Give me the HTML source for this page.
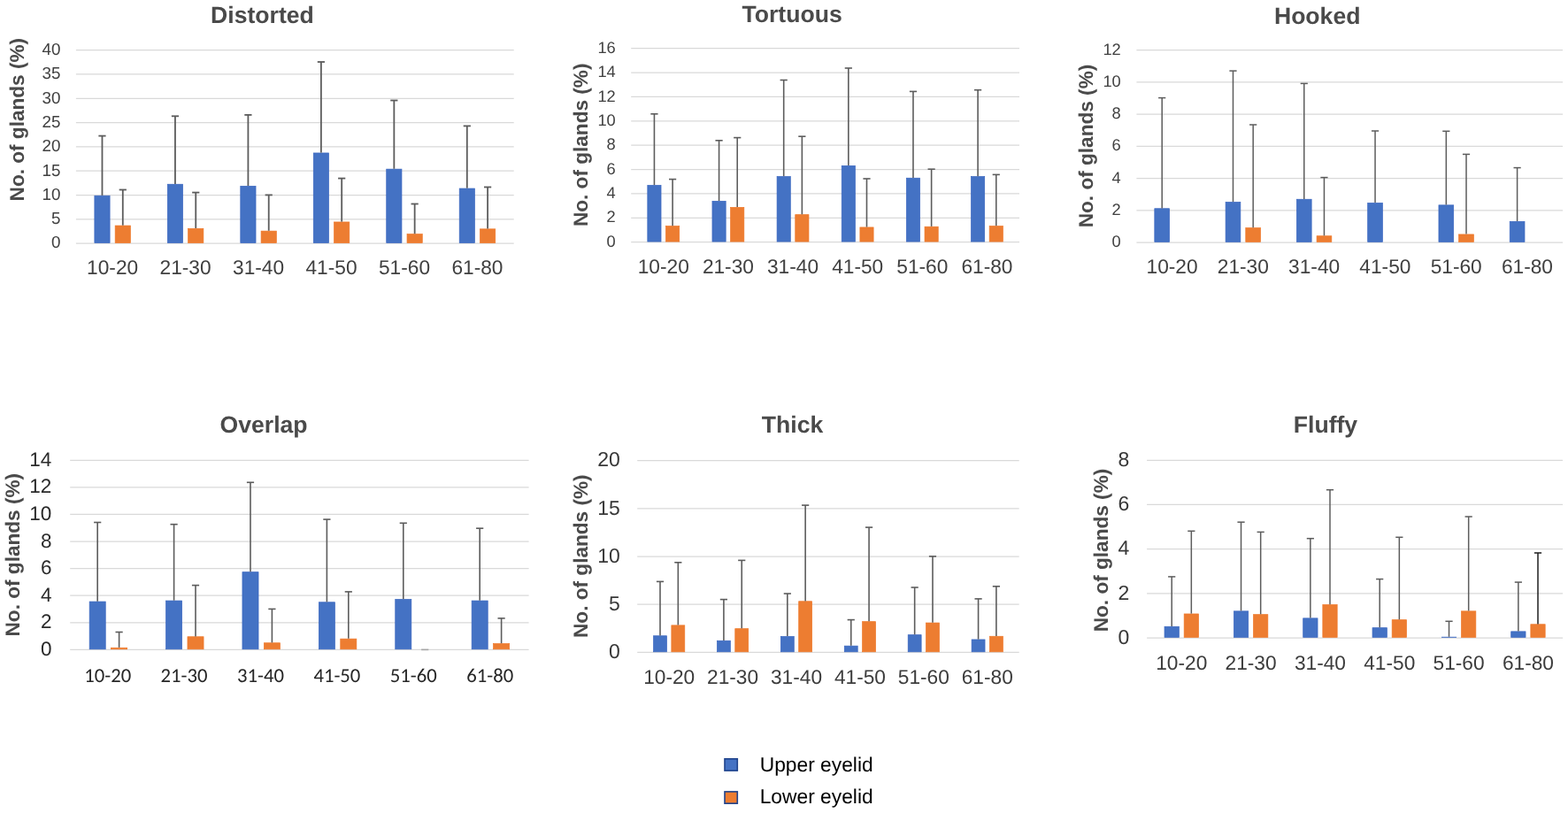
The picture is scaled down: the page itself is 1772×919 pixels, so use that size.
<!DOCTYPE html>
<html lang="en"><head><meta charset="utf-8"><title>Meibomian gland morphology by age group</title>
<style>
html,body{margin:0;padding:0;background:#fff;}
body{width:1772px;height:919px;overflow:hidden;}
svg{display:block;font-family:"Liberation Sans",Arial,sans-serif;text-rendering:geometricPrecision;}
</style></head><body>
<svg width="1772" height="919" viewBox="0 0 1772 919">
<rect width="1772" height="919" fill="#fff"/>
<g>
<line x1="85.9" y1="275.2" x2="580.7" y2="275.2" stroke="#D9D9D9" stroke-width="1.25"/>
<line x1="85.9" y1="247.88" x2="580.7" y2="247.88" stroke="#D9D9D9" stroke-width="1.25"/>
<line x1="85.9" y1="220.55" x2="580.7" y2="220.55" stroke="#D9D9D9" stroke-width="1.25"/>
<line x1="85.9" y1="193.22" x2="580.7" y2="193.22" stroke="#D9D9D9" stroke-width="1.25"/>
<line x1="85.9" y1="165.9" x2="580.7" y2="165.9" stroke="#D9D9D9" stroke-width="1.25"/>
<line x1="85.9" y1="138.57" x2="580.7" y2="138.57" stroke="#D9D9D9" stroke-width="1.25"/>
<line x1="85.9" y1="111.25" x2="580.7" y2="111.25" stroke="#D9D9D9" stroke-width="1.25"/>
<line x1="85.9" y1="83.92" x2="580.7" y2="83.92" stroke="#D9D9D9" stroke-width="1.25"/>
<line x1="85.9" y1="56.6" x2="580.7" y2="56.6" stroke="#D9D9D9" stroke-width="1.25"/>
<text x="68.35" y="280.49" text-anchor="end" font-size="18.8" fill="#404040">0</text>
<text x="68.35" y="253.16" text-anchor="end" font-size="18.8" fill="#404040">5</text>
<text x="68.35" y="225.84" text-anchor="end" font-size="18.8" fill="#404040">10</text>
<text x="68.35" y="198.51" text-anchor="end" font-size="18.8" fill="#404040">15</text>
<text x="68.35" y="171.19" text-anchor="end" font-size="18.8" fill="#404040">20</text>
<text x="68.35" y="143.86" text-anchor="end" font-size="18.8" fill="#404040">25</text>
<text x="68.35" y="116.54" text-anchor="end" font-size="18.8" fill="#404040">30</text>
<text x="68.35" y="89.21" text-anchor="end" font-size="18.8" fill="#404040">35</text>
<text x="68.35" y="61.89" text-anchor="end" font-size="18.8" fill="#404040">40</text>
<rect x="106.87" y="221.25" width="17.23" height="53.35" fill="#4472C4" stroke="#3A66C0" stroke-width="0.7"/>
<line x1="115.48" y1="220.9" x2="115.48" y2="153.6" stroke="#5C5C5C" stroke-width="1.8"/>
<line x1="111.38" y1="153.6" x2="119.58" y2="153.6" stroke="#5C5C5C" stroke-width="1.8"/>
<rect x="130.17" y="255.05" width="17.23" height="19.55" fill="#ED7D31" stroke="#EF7728" stroke-width="0.7"/>
<line x1="138.79" y1="254.7" x2="138.79" y2="214.5" stroke="#5C5C5C" stroke-width="1.8"/>
<line x1="134.69" y1="214.5" x2="142.89" y2="214.5" stroke="#5C5C5C" stroke-width="1.8"/>
<text x="127.13" y="309.8" text-anchor="middle" font-size="22.7" fill="#404040">10-20</text>
<rect x="189.33" y="208.25" width="17.23" height="66.35" fill="#4472C4" stroke="#3A66C0" stroke-width="0.7"/>
<line x1="197.95" y1="207.9" x2="197.95" y2="131.3" stroke="#5C5C5C" stroke-width="1.8"/>
<line x1="193.85" y1="131.3" x2="202.05" y2="131.3" stroke="#5C5C5C" stroke-width="1.8"/>
<rect x="212.64" y="258.35" width="17.23" height="16.25" fill="#ED7D31" stroke="#EF7728" stroke-width="0.7"/>
<line x1="221.25" y1="258" x2="221.25" y2="217.6" stroke="#5C5C5C" stroke-width="1.8"/>
<line x1="217.15" y1="217.6" x2="225.35" y2="217.6" stroke="#5C5C5C" stroke-width="1.8"/>
<text x="209.6" y="309.8" text-anchor="middle" font-size="22.7" fill="#404040">21-30</text>
<rect x="271.8" y="210.35" width="17.23" height="64.25" fill="#4472C4" stroke="#3A66C0" stroke-width="0.7"/>
<line x1="280.41" y1="210" x2="280.41" y2="129.9" stroke="#5C5C5C" stroke-width="1.8"/>
<line x1="276.31" y1="129.9" x2="284.51" y2="129.9" stroke="#5C5C5C" stroke-width="1.8"/>
<rect x="295.11" y="261.15" width="17.23" height="13.45" fill="#ED7D31" stroke="#EF7728" stroke-width="0.7"/>
<line x1="303.72" y1="260.8" x2="303.72" y2="220.4" stroke="#5C5C5C" stroke-width="1.8"/>
<line x1="299.62" y1="220.4" x2="307.82" y2="220.4" stroke="#5C5C5C" stroke-width="1.8"/>
<text x="292.07" y="309.8" text-anchor="middle" font-size="22.7" fill="#404040">31-40</text>
<rect x="354.27" y="172.95" width="17.23" height="101.65" fill="#4472C4" stroke="#3A66C0" stroke-width="0.7"/>
<line x1="362.88" y1="172.6" x2="362.88" y2="70" stroke="#5C5C5C" stroke-width="1.8"/>
<line x1="358.78" y1="70" x2="366.98" y2="70" stroke="#5C5C5C" stroke-width="1.8"/>
<rect x="377.57" y="250.95" width="17.23" height="23.65" fill="#ED7D31" stroke="#EF7728" stroke-width="0.7"/>
<line x1="386.19" y1="250.6" x2="386.19" y2="201.6" stroke="#5C5C5C" stroke-width="1.8"/>
<line x1="382.09" y1="201.6" x2="390.29" y2="201.6" stroke="#5C5C5C" stroke-width="1.8"/>
<text x="374.53" y="309.8" text-anchor="middle" font-size="22.7" fill="#404040">41-50</text>
<rect x="436.73" y="191.15" width="17.23" height="83.45" fill="#4472C4" stroke="#3A66C0" stroke-width="0.7"/>
<line x1="445.35" y1="190.8" x2="445.35" y2="113.5" stroke="#5C5C5C" stroke-width="1.8"/>
<line x1="441.25" y1="113.5" x2="449.45" y2="113.5" stroke="#5C5C5C" stroke-width="1.8"/>
<rect x="460.04" y="264.65" width="17.23" height="9.95" fill="#ED7D31" stroke="#EF7728" stroke-width="0.7"/>
<line x1="468.65" y1="264.3" x2="468.65" y2="230.5" stroke="#5C5C5C" stroke-width="1.8"/>
<line x1="464.55" y1="230.5" x2="472.75" y2="230.5" stroke="#5C5C5C" stroke-width="1.8"/>
<text x="457" y="309.8" text-anchor="middle" font-size="22.7" fill="#404040">51-60</text>
<rect x="519.2" y="213.05" width="17.23" height="61.55" fill="#4472C4" stroke="#3A66C0" stroke-width="0.7"/>
<line x1="527.81" y1="212.7" x2="527.81" y2="142.4" stroke="#5C5C5C" stroke-width="1.8"/>
<line x1="523.71" y1="142.4" x2="531.91" y2="142.4" stroke="#5C5C5C" stroke-width="1.8"/>
<rect x="542.51" y="258.85" width="17.23" height="15.75" fill="#ED7D31" stroke="#EF7728" stroke-width="0.7"/>
<line x1="551.12" y1="258.5" x2="551.12" y2="211.5" stroke="#5C5C5C" stroke-width="1.8"/>
<line x1="547.02" y1="211.5" x2="555.22" y2="211.5" stroke="#5C5C5C" stroke-width="1.8"/>
<text x="539.47" y="309.8" text-anchor="middle" font-size="22.7" fill="#404040">61-80</text>
<text x="296.45" y="26.3" text-anchor="middle" font-size="26.6" font-weight="bold" fill="#4A4A4A">Distorted</text>
<text transform="translate(26.5,135.15) rotate(-90)" text-anchor="middle" font-size="22.6" font-weight="bold" fill="#4A4A4A">No. of glands (%)</text>
</g>
<g>
<line x1="713.2" y1="273.7" x2="1152" y2="273.7" stroke="#D9D9D9" stroke-width="1.25"/>
<line x1="713.2" y1="246.32" x2="1152" y2="246.32" stroke="#D9D9D9" stroke-width="1.25"/>
<line x1="713.2" y1="218.95" x2="1152" y2="218.95" stroke="#D9D9D9" stroke-width="1.25"/>
<line x1="713.2" y1="191.57" x2="1152" y2="191.57" stroke="#D9D9D9" stroke-width="1.25"/>
<line x1="713.2" y1="164.2" x2="1152" y2="164.2" stroke="#D9D9D9" stroke-width="1.25"/>
<line x1="713.2" y1="136.82" x2="1152" y2="136.82" stroke="#D9D9D9" stroke-width="1.25"/>
<line x1="713.2" y1="109.45" x2="1152" y2="109.45" stroke="#D9D9D9" stroke-width="1.25"/>
<line x1="713.2" y1="82.07" x2="1152" y2="82.07" stroke="#D9D9D9" stroke-width="1.25"/>
<line x1="713.2" y1="54.7" x2="1152" y2="54.7" stroke="#D9D9D9" stroke-width="1.25"/>
<text x="695.73" y="278.81" text-anchor="end" font-size="18.3" fill="#404040">0</text>
<text x="695.73" y="251.44" text-anchor="end" font-size="18.3" fill="#404040">2</text>
<text x="695.73" y="224.06" text-anchor="end" font-size="18.3" fill="#404040">4</text>
<text x="695.73" y="196.69" text-anchor="end" font-size="18.3" fill="#404040">6</text>
<text x="695.73" y="169.31" text-anchor="end" font-size="18.3" fill="#404040">8</text>
<text x="695.73" y="141.94" text-anchor="end" font-size="18.3" fill="#404040">10</text>
<text x="695.73" y="114.56" text-anchor="end" font-size="18.3" fill="#404040">12</text>
<text x="695.73" y="87.19" text-anchor="end" font-size="18.3" fill="#404040">14</text>
<text x="695.73" y="59.81" text-anchor="end" font-size="18.3" fill="#404040">16</text>
<rect x="731.83" y="209.45" width="15.2" height="63.65" fill="#4472C4" stroke="#3A66C0" stroke-width="0.7"/>
<line x1="739.43" y1="209.1" x2="739.43" y2="128.8" stroke="#5C5C5C" stroke-width="1.6"/>
<line x1="735.33" y1="128.8" x2="743.53" y2="128.8" stroke="#5C5C5C" stroke-width="1.6"/>
<rect x="752.5" y="255.55" width="15.2" height="17.55" fill="#ED7D31" stroke="#EF7728" stroke-width="0.7"/>
<line x1="760.1" y1="255.2" x2="760.1" y2="202.6" stroke="#5C5C5C" stroke-width="1.6"/>
<line x1="756" y1="202.6" x2="764.2" y2="202.6" stroke="#5C5C5C" stroke-width="1.6"/>
<text x="749.77" y="308.8" text-anchor="middle" font-size="22.7" fill="#404040">10-20</text>
<rect x="804.97" y="227.35" width="15.2" height="45.75" fill="#4472C4" stroke="#3A66C0" stroke-width="0.7"/>
<line x1="812.57" y1="227" x2="812.57" y2="158.8" stroke="#5C5C5C" stroke-width="1.6"/>
<line x1="808.47" y1="158.8" x2="816.67" y2="158.8" stroke="#5C5C5C" stroke-width="1.6"/>
<rect x="825.63" y="234.35" width="15.2" height="38.75" fill="#ED7D31" stroke="#EF7728" stroke-width="0.7"/>
<line x1="833.23" y1="234" x2="833.23" y2="155.6" stroke="#5C5C5C" stroke-width="1.6"/>
<line x1="829.13" y1="155.6" x2="837.33" y2="155.6" stroke="#5C5C5C" stroke-width="1.6"/>
<text x="822.9" y="308.8" text-anchor="middle" font-size="22.7" fill="#404040">21-30</text>
<rect x="878.1" y="199.55" width="15.2" height="73.55" fill="#4472C4" stroke="#3A66C0" stroke-width="0.7"/>
<line x1="885.7" y1="199.2" x2="885.7" y2="90.5" stroke="#5C5C5C" stroke-width="1.6"/>
<line x1="881.6" y1="90.5" x2="889.8" y2="90.5" stroke="#5C5C5C" stroke-width="1.6"/>
<rect x="898.77" y="242.65" width="15.2" height="30.45" fill="#ED7D31" stroke="#EF7728" stroke-width="0.7"/>
<line x1="906.37" y1="242.3" x2="906.37" y2="154.2" stroke="#5C5C5C" stroke-width="1.6"/>
<line x1="902.27" y1="154.2" x2="910.47" y2="154.2" stroke="#5C5C5C" stroke-width="1.6"/>
<text x="896.03" y="308.8" text-anchor="middle" font-size="22.7" fill="#404040">31-40</text>
<rect x="951.23" y="187.35" width="15.2" height="85.75" fill="#4472C4" stroke="#3A66C0" stroke-width="0.7"/>
<line x1="958.83" y1="187" x2="958.83" y2="77" stroke="#5C5C5C" stroke-width="1.6"/>
<line x1="954.73" y1="77" x2="962.93" y2="77" stroke="#5C5C5C" stroke-width="1.6"/>
<rect x="971.9" y="256.95" width="15.2" height="16.15" fill="#ED7D31" stroke="#EF7728" stroke-width="0.7"/>
<line x1="979.5" y1="256.6" x2="979.5" y2="202" stroke="#5C5C5C" stroke-width="1.6"/>
<line x1="975.4" y1="202" x2="983.6" y2="202" stroke="#5C5C5C" stroke-width="1.6"/>
<text x="969.17" y="308.8" text-anchor="middle" font-size="22.7" fill="#404040">41-50</text>
<rect x="1024.37" y="201.25" width="15.2" height="71.85" fill="#4472C4" stroke="#3A66C0" stroke-width="0.7"/>
<line x1="1031.97" y1="200.9" x2="1031.97" y2="103.4" stroke="#5C5C5C" stroke-width="1.6"/>
<line x1="1027.87" y1="103.4" x2="1036.07" y2="103.4" stroke="#5C5C5C" stroke-width="1.6"/>
<rect x="1045.03" y="256.25" width="15.2" height="16.85" fill="#ED7D31" stroke="#EF7728" stroke-width="0.7"/>
<line x1="1052.63" y1="255.9" x2="1052.63" y2="191.2" stroke="#5C5C5C" stroke-width="1.6"/>
<line x1="1048.53" y1="191.2" x2="1056.73" y2="191.2" stroke="#5C5C5C" stroke-width="1.6"/>
<text x="1042.3" y="308.8" text-anchor="middle" font-size="22.7" fill="#404040">51-60</text>
<rect x="1097.5" y="199.55" width="15.2" height="73.55" fill="#4472C4" stroke="#3A66C0" stroke-width="0.7"/>
<line x1="1105.1" y1="199.2" x2="1105.1" y2="101.7" stroke="#5C5C5C" stroke-width="1.6"/>
<line x1="1101" y1="101.7" x2="1109.2" y2="101.7" stroke="#5C5C5C" stroke-width="1.6"/>
<rect x="1118.17" y="255.55" width="15.2" height="17.55" fill="#ED7D31" stroke="#EF7728" stroke-width="0.7"/>
<line x1="1125.77" y1="255.2" x2="1125.77" y2="197.4" stroke="#5C5C5C" stroke-width="1.6"/>
<line x1="1121.67" y1="197.4" x2="1129.87" y2="197.4" stroke="#5C5C5C" stroke-width="1.6"/>
<text x="1115.43" y="308.8" text-anchor="middle" font-size="22.7" fill="#404040">61-80</text>
<text x="895.1" y="24.9" text-anchor="middle" font-size="26.6" font-weight="bold" fill="#4A4A4A">Tortuous</text>
<text transform="translate(663.6,163.8) rotate(-90)" text-anchor="middle" font-size="22.6" font-weight="bold" fill="#4A4A4A">No. of glands (%)</text>
</g>
<g>
<line x1="1284.4" y1="274.1" x2="1766.1" y2="274.1" stroke="#D9D9D9" stroke-width="1.25"/>
<line x1="1284.4" y1="237.85" x2="1766.1" y2="237.85" stroke="#D9D9D9" stroke-width="1.25"/>
<line x1="1284.4" y1="201.6" x2="1766.1" y2="201.6" stroke="#D9D9D9" stroke-width="1.25"/>
<line x1="1284.4" y1="165.35" x2="1766.1" y2="165.35" stroke="#D9D9D9" stroke-width="1.25"/>
<line x1="1284.4" y1="129.1" x2="1766.1" y2="129.1" stroke="#D9D9D9" stroke-width="1.25"/>
<line x1="1284.4" y1="92.85" x2="1766.1" y2="92.85" stroke="#D9D9D9" stroke-width="1.25"/>
<line x1="1284.4" y1="56.6" x2="1766.1" y2="56.6" stroke="#D9D9D9" stroke-width="1.25"/>
<text x="1266.73" y="279.21" text-anchor="end" font-size="18.3" fill="#404040">0</text>
<text x="1266.73" y="242.96" text-anchor="end" font-size="18.3" fill="#404040">2</text>
<text x="1266.73" y="206.71" text-anchor="end" font-size="18.3" fill="#404040">4</text>
<text x="1266.73" y="170.46" text-anchor="end" font-size="18.3" fill="#404040">6</text>
<text x="1266.73" y="134.21" text-anchor="end" font-size="18.3" fill="#404040">8</text>
<text x="1266.73" y="97.96" text-anchor="end" font-size="18.3" fill="#404040">10</text>
<text x="1266.73" y="61.71" text-anchor="end" font-size="18.3" fill="#404040">12</text>
<rect x="1304.82" y="235.75" width="16.75" height="37.75" fill="#4472C4" stroke="#3A66C0" stroke-width="0.7"/>
<line x1="1313.2" y1="235.4" x2="1313.2" y2="110.6" stroke="#5C5C5C" stroke-width="1.5"/>
<line x1="1309.1" y1="110.6" x2="1317.3" y2="110.6" stroke="#5C5C5C" stroke-width="1.5"/>
<text x="1324.54" y="309" text-anchor="middle" font-size="22.7" fill="#404040">10-20</text>
<rect x="1385.1" y="228.45" width="16.75" height="45.05" fill="#4472C4" stroke="#3A66C0" stroke-width="0.7"/>
<line x1="1393.48" y1="228.1" x2="1393.48" y2="80.1" stroke="#5C5C5C" stroke-width="1.5"/>
<line x1="1389.38" y1="80.1" x2="1397.58" y2="80.1" stroke="#5C5C5C" stroke-width="1.5"/>
<rect x="1407.79" y="257.65" width="16.75" height="15.85" fill="#ED7D31" stroke="#EF7728" stroke-width="0.7"/>
<line x1="1416.17" y1="257.3" x2="1416.17" y2="141" stroke="#5C5C5C" stroke-width="1.5"/>
<line x1="1412.07" y1="141" x2="1420.27" y2="141" stroke="#5C5C5C" stroke-width="1.5"/>
<text x="1404.83" y="309" text-anchor="middle" font-size="22.7" fill="#404040">21-30</text>
<rect x="1465.39" y="225.25" width="16.75" height="48.25" fill="#4472C4" stroke="#3A66C0" stroke-width="0.7"/>
<line x1="1473.76" y1="224.9" x2="1473.76" y2="94.4" stroke="#5C5C5C" stroke-width="1.5"/>
<line x1="1469.66" y1="94.4" x2="1477.86" y2="94.4" stroke="#5C5C5C" stroke-width="1.5"/>
<rect x="1488.08" y="266.75" width="16.75" height="6.75" fill="#ED7D31" stroke="#EF7728" stroke-width="0.7"/>
<line x1="1496.45" y1="266.4" x2="1496.45" y2="200.6" stroke="#5C5C5C" stroke-width="1.5"/>
<line x1="1492.35" y1="200.6" x2="1500.55" y2="200.6" stroke="#5C5C5C" stroke-width="1.5"/>
<text x="1485.11" y="309" text-anchor="middle" font-size="22.7" fill="#404040">31-40</text>
<rect x="1545.67" y="229.45" width="16.75" height="44.05" fill="#4472C4" stroke="#3A66C0" stroke-width="0.7"/>
<line x1="1554.05" y1="229.1" x2="1554.05" y2="148" stroke="#5C5C5C" stroke-width="1.5"/>
<line x1="1549.95" y1="148" x2="1558.15" y2="148" stroke="#5C5C5C" stroke-width="1.5"/>
<text x="1565.39" y="309" text-anchor="middle" font-size="22.7" fill="#404040">41-50</text>
<rect x="1625.95" y="231.85" width="16.75" height="41.65" fill="#4472C4" stroke="#3A66C0" stroke-width="0.7"/>
<line x1="1634.33" y1="231.5" x2="1634.33" y2="148.3" stroke="#5C5C5C" stroke-width="1.5"/>
<line x1="1630.23" y1="148.3" x2="1638.43" y2="148.3" stroke="#5C5C5C" stroke-width="1.5"/>
<rect x="1648.64" y="264.95" width="16.75" height="8.55" fill="#ED7D31" stroke="#EF7728" stroke-width="0.7"/>
<line x1="1657.02" y1="264.6" x2="1657.02" y2="174.4" stroke="#5C5C5C" stroke-width="1.5"/>
<line x1="1652.92" y1="174.4" x2="1661.12" y2="174.4" stroke="#5C5C5C" stroke-width="1.5"/>
<text x="1645.67" y="309" text-anchor="middle" font-size="22.7" fill="#404040">51-60</text>
<rect x="1706.24" y="250.35" width="16.75" height="23.15" fill="#4472C4" stroke="#3A66C0" stroke-width="0.7"/>
<line x1="1714.61" y1="250" x2="1714.61" y2="189.6" stroke="#5C5C5C" stroke-width="1.5"/>
<line x1="1710.51" y1="189.6" x2="1718.71" y2="189.6" stroke="#5C5C5C" stroke-width="1.5"/>
<text x="1725.96" y="309" text-anchor="middle" font-size="22.7" fill="#404040">61-80</text>
<text x="1488.7" y="26.7" text-anchor="middle" font-size="26.6" font-weight="bold" fill="#4A4A4A">Hooked</text>
<text transform="translate(1235,165) rotate(-90)" text-anchor="middle" font-size="22.6" font-weight="bold" fill="#4A4A4A">No. of glands (%)</text>
</g>
<g>
<line x1="79.2" y1="734.4" x2="597.6" y2="734.4" stroke="#D9D9D9" stroke-width="1.25"/>
<line x1="79.2" y1="703.81" x2="597.6" y2="703.81" stroke="#D9D9D9" stroke-width="1.25"/>
<line x1="79.2" y1="673.23" x2="597.6" y2="673.23" stroke="#D9D9D9" stroke-width="1.25"/>
<line x1="79.2" y1="642.64" x2="597.6" y2="642.64" stroke="#D9D9D9" stroke-width="1.25"/>
<line x1="79.2" y1="612.06" x2="597.6" y2="612.06" stroke="#D9D9D9" stroke-width="1.25"/>
<line x1="79.2" y1="581.47" x2="597.6" y2="581.47" stroke="#D9D9D9" stroke-width="1.25"/>
<line x1="79.2" y1="550.89" x2="597.6" y2="550.89" stroke="#D9D9D9" stroke-width="1.25"/>
<line x1="79.2" y1="520.3" x2="597.6" y2="520.3" stroke="#D9D9D9" stroke-width="1.25"/>
<text x="58.4" y="740.96" text-anchor="end" font-size="22.5" fill="#2a2a2a">0</text>
<text x="58.4" y="710.38" text-anchor="end" font-size="22.5" fill="#2a2a2a">2</text>
<text x="58.4" y="679.79" text-anchor="end" font-size="22.5" fill="#2a2a2a">4</text>
<text x="58.4" y="649.21" text-anchor="end" font-size="22.5" fill="#2a2a2a">6</text>
<text x="58.4" y="618.62" text-anchor="end" font-size="22.5" fill="#2a2a2a">8</text>
<text x="58.4" y="588.03" text-anchor="end" font-size="22.5" fill="#2a2a2a">10</text>
<text x="58.4" y="557.45" text-anchor="end" font-size="22.5" fill="#2a2a2a">12</text>
<text x="58.4" y="526.86" text-anchor="end" font-size="22.5" fill="#2a2a2a">14</text>
<rect x="101.15" y="680.05" width="18.08" height="53.75" fill="#4472C4" stroke="#3A66C0" stroke-width="0.7"/>
<line x1="110.19" y1="679.7" x2="110.19" y2="590.5" stroke="#5C5C5C" stroke-width="1.6"/>
<line x1="106.09" y1="590.5" x2="114.29" y2="590.5" stroke="#5C5C5C" stroke-width="1.6"/>
<rect x="125.57" y="732.25" width="18.08" height="1.55" fill="#ED7D31" stroke="#EF7728" stroke-width="0.7"/>
<line x1="134.61" y1="731.9" x2="134.61" y2="714.5" stroke="#5C5C5C" stroke-width="1.6"/>
<line x1="130.51" y1="714.5" x2="138.71" y2="714.5" stroke="#5C5C5C" stroke-width="1.6"/>
<text x="121.7" y="771.3" text-anchor="middle" font-size="22.7" fill="#262626" font-family="Carlito, Liberation Sans, sans-serif">10-20</text>
<rect x="187.55" y="679.05" width="18.08" height="54.75" fill="#4472C4" stroke="#3A66C0" stroke-width="0.7"/>
<line x1="196.59" y1="678.7" x2="196.59" y2="592.7" stroke="#5C5C5C" stroke-width="1.6"/>
<line x1="192.49" y1="592.7" x2="200.69" y2="592.7" stroke="#5C5C5C" stroke-width="1.6"/>
<rect x="211.97" y="719.75" width="18.08" height="14.05" fill="#ED7D31" stroke="#EF7728" stroke-width="0.7"/>
<line x1="221.01" y1="719.4" x2="221.01" y2="661.6" stroke="#5C5C5C" stroke-width="1.6"/>
<line x1="216.91" y1="661.6" x2="225.11" y2="661.6" stroke="#5C5C5C" stroke-width="1.6"/>
<text x="208.1" y="771.3" text-anchor="middle" font-size="22.7" fill="#262626" font-family="Carlito, Liberation Sans, sans-serif">21-30</text>
<rect x="273.95" y="646.65" width="18.08" height="87.15" fill="#4472C4" stroke="#3A66C0" stroke-width="0.7"/>
<line x1="282.99" y1="646.3" x2="282.99" y2="545.3" stroke="#5C5C5C" stroke-width="1.6"/>
<line x1="278.89" y1="545.3" x2="287.09" y2="545.3" stroke="#5C5C5C" stroke-width="1.6"/>
<rect x="298.37" y="726.75" width="18.08" height="7.05" fill="#ED7D31" stroke="#EF7728" stroke-width="0.7"/>
<line x1="307.41" y1="726.4" x2="307.41" y2="688.4" stroke="#5C5C5C" stroke-width="1.6"/>
<line x1="303.31" y1="688.4" x2="311.51" y2="688.4" stroke="#5C5C5C" stroke-width="1.6"/>
<text x="294.5" y="771.3" text-anchor="middle" font-size="22.7" fill="#262626" font-family="Carlito, Liberation Sans, sans-serif">31-40</text>
<rect x="360.35" y="680.75" width="18.08" height="53.05" fill="#4472C4" stroke="#3A66C0" stroke-width="0.7"/>
<line x1="369.39" y1="680.4" x2="369.39" y2="587.1" stroke="#5C5C5C" stroke-width="1.6"/>
<line x1="365.29" y1="587.1" x2="373.49" y2="587.1" stroke="#5C5C5C" stroke-width="1.6"/>
<rect x="384.77" y="722.15" width="18.08" height="11.65" fill="#ED7D31" stroke="#EF7728" stroke-width="0.7"/>
<line x1="393.81" y1="721.8" x2="393.81" y2="668.9" stroke="#5C5C5C" stroke-width="1.6"/>
<line x1="389.71" y1="668.9" x2="397.91" y2="668.9" stroke="#5C5C5C" stroke-width="1.6"/>
<text x="380.9" y="771.3" text-anchor="middle" font-size="22.7" fill="#262626" font-family="Carlito, Liberation Sans, sans-serif">41-50</text>
<rect x="446.75" y="677.45" width="18.08" height="56.35" fill="#4472C4" stroke="#3A66C0" stroke-width="0.7"/>
<line x1="455.79" y1="677.1" x2="455.79" y2="591.3" stroke="#5C5C5C" stroke-width="1.6"/>
<line x1="451.69" y1="591.3" x2="459.89" y2="591.3" stroke="#5C5C5C" stroke-width="1.6"/>
<line x1="476.11" y1="734.4" x2="484.31" y2="734.4" stroke="#A6A6A6" stroke-width="1.6"/>
<text x="467.3" y="771.3" text-anchor="middle" font-size="22.7" fill="#262626" font-family="Carlito, Liberation Sans, sans-serif">51-60</text>
<rect x="533.15" y="679.05" width="18.08" height="54.75" fill="#4472C4" stroke="#3A66C0" stroke-width="0.7"/>
<line x1="542.19" y1="678.7" x2="542.19" y2="597.2" stroke="#5C5C5C" stroke-width="1.6"/>
<line x1="538.09" y1="597.2" x2="546.29" y2="597.2" stroke="#5C5C5C" stroke-width="1.6"/>
<rect x="557.57" y="727.55" width="18.08" height="6.25" fill="#ED7D31" stroke="#EF7728" stroke-width="0.7"/>
<line x1="566.61" y1="727.2" x2="566.61" y2="698.9" stroke="#5C5C5C" stroke-width="1.6"/>
<line x1="562.51" y1="698.9" x2="570.71" y2="698.9" stroke="#5C5C5C" stroke-width="1.6"/>
<text x="553.7" y="771.3" text-anchor="middle" font-size="22.7" fill="#262626" font-family="Carlito, Liberation Sans, sans-serif">61-80</text>
<text x="298.05" y="489.2" text-anchor="middle" font-size="26.6" font-weight="bold" fill="#4A4A4A">Overlap</text>
<text transform="translate(21.6,627.2) rotate(-90)" text-anchor="middle" font-size="22.6" font-weight="bold" fill="#4A4A4A">No. of glands (%)</text>
</g>
<g>
<line x1="720.2" y1="737.4" x2="1151.7" y2="737.4" stroke="#D9D9D9" stroke-width="1.25"/>
<line x1="720.2" y1="683.2" x2="1151.7" y2="683.2" stroke="#D9D9D9" stroke-width="1.25"/>
<line x1="720.2" y1="629" x2="1151.7" y2="629" stroke="#D9D9D9" stroke-width="1.25"/>
<line x1="720.2" y1="574.8" x2="1151.7" y2="574.8" stroke="#D9D9D9" stroke-width="1.25"/>
<line x1="720.2" y1="520.6" x2="1151.7" y2="520.6" stroke="#D9D9D9" stroke-width="1.25"/>
<text x="700.72" y="744.13" text-anchor="end" font-size="23" fill="#383838">0</text>
<text x="700.72" y="689.93" text-anchor="end" font-size="23" fill="#383838">5</text>
<text x="700.72" y="635.73" text-anchor="end" font-size="23" fill="#383838">10</text>
<text x="700.72" y="581.53" text-anchor="end" font-size="23" fill="#383838">15</text>
<text x="700.72" y="527.33" text-anchor="end" font-size="23" fill="#383838">20</text>
<rect x="738.53" y="718.75" width="14.93" height="18.05" fill="#4472C4" stroke="#3A66C0" stroke-width="0.7"/>
<line x1="746" y1="718.4" x2="746" y2="657.4" stroke="#5C5C5C" stroke-width="1.6"/>
<line x1="741.9" y1="657.4" x2="750.1" y2="657.4" stroke="#5C5C5C" stroke-width="1.6"/>
<rect x="758.85" y="706.85" width="14.93" height="29.95" fill="#ED7D31" stroke="#EF7728" stroke-width="0.7"/>
<line x1="766.32" y1="706.5" x2="766.32" y2="635.8" stroke="#5C5C5C" stroke-width="1.6"/>
<line x1="762.22" y1="635.8" x2="770.42" y2="635.8" stroke="#5C5C5C" stroke-width="1.6"/>
<text x="756.16" y="773" text-anchor="middle" font-size="22.7" fill="#3c3c3c">10-20</text>
<rect x="810.45" y="724.25" width="14.93" height="12.55" fill="#4472C4" stroke="#3A66C0" stroke-width="0.7"/>
<line x1="817.91" y1="723.9" x2="817.91" y2="677.6" stroke="#5C5C5C" stroke-width="1.6"/>
<line x1="813.81" y1="677.6" x2="822.01" y2="677.6" stroke="#5C5C5C" stroke-width="1.6"/>
<rect x="830.77" y="710.65" width="14.93" height="26.15" fill="#ED7D31" stroke="#EF7728" stroke-width="0.7"/>
<line x1="838.24" y1="710.3" x2="838.24" y2="633.4" stroke="#5C5C5C" stroke-width="1.6"/>
<line x1="834.14" y1="633.4" x2="842.34" y2="633.4" stroke="#5C5C5C" stroke-width="1.6"/>
<text x="828.08" y="773" text-anchor="middle" font-size="22.7" fill="#3c3c3c">21-30</text>
<rect x="882.36" y="719.45" width="14.93" height="17.35" fill="#4472C4" stroke="#3A66C0" stroke-width="0.7"/>
<line x1="889.83" y1="719.1" x2="889.83" y2="671" stroke="#5C5C5C" stroke-width="1.6"/>
<line x1="885.73" y1="671" x2="893.93" y2="671" stroke="#5C5C5C" stroke-width="1.6"/>
<rect x="902.69" y="679.75" width="14.93" height="57.05" fill="#ED7D31" stroke="#EF7728" stroke-width="0.7"/>
<line x1="910.15" y1="679.4" x2="910.15" y2="571.1" stroke="#5C5C5C" stroke-width="1.6"/>
<line x1="906.05" y1="571.1" x2="914.25" y2="571.1" stroke="#5C5C5C" stroke-width="1.6"/>
<text x="899.99" y="773" text-anchor="middle" font-size="22.7" fill="#3c3c3c">31-40</text>
<rect x="954.28" y="730.15" width="14.93" height="6.65" fill="#4472C4" stroke="#3A66C0" stroke-width="0.7"/>
<line x1="961.75" y1="729.8" x2="961.75" y2="700.6" stroke="#5C5C5C" stroke-width="1.6"/>
<line x1="957.65" y1="700.6" x2="965.85" y2="700.6" stroke="#5C5C5C" stroke-width="1.6"/>
<rect x="974.6" y="702.65" width="14.93" height="34.15" fill="#ED7D31" stroke="#EF7728" stroke-width="0.7"/>
<line x1="982.07" y1="702.3" x2="982.07" y2="596.1" stroke="#5C5C5C" stroke-width="1.6"/>
<line x1="977.97" y1="596.1" x2="986.17" y2="596.1" stroke="#5C5C5C" stroke-width="1.6"/>
<text x="971.91" y="773" text-anchor="middle" font-size="22.7" fill="#3c3c3c">41-50</text>
<rect x="1026.2" y="717.65" width="14.93" height="19.15" fill="#4472C4" stroke="#3A66C0" stroke-width="0.7"/>
<line x1="1033.66" y1="717.3" x2="1033.66" y2="664" stroke="#5C5C5C" stroke-width="1.6"/>
<line x1="1029.56" y1="664" x2="1037.76" y2="664" stroke="#5C5C5C" stroke-width="1.6"/>
<rect x="1046.52" y="704.05" width="14.93" height="32.75" fill="#ED7D31" stroke="#EF7728" stroke-width="0.7"/>
<line x1="1053.99" y1="703.7" x2="1053.99" y2="628.9" stroke="#5C5C5C" stroke-width="1.6"/>
<line x1="1049.89" y1="628.9" x2="1058.09" y2="628.9" stroke="#5C5C5C" stroke-width="1.6"/>
<text x="1043.83" y="773" text-anchor="middle" font-size="22.7" fill="#3c3c3c">51-60</text>
<rect x="1098.11" y="722.95" width="14.93" height="13.85" fill="#4472C4" stroke="#3A66C0" stroke-width="0.7"/>
<line x1="1105.58" y1="722.6" x2="1105.58" y2="676.9" stroke="#5C5C5C" stroke-width="1.6"/>
<line x1="1101.48" y1="676.9" x2="1109.68" y2="676.9" stroke="#5C5C5C" stroke-width="1.6"/>
<rect x="1118.44" y="719.25" width="14.93" height="17.55" fill="#ED7D31" stroke="#EF7728" stroke-width="0.7"/>
<line x1="1125.9" y1="718.9" x2="1125.9" y2="662.8" stroke="#5C5C5C" stroke-width="1.6"/>
<line x1="1121.8" y1="662.8" x2="1130" y2="662.8" stroke="#5C5C5C" stroke-width="1.6"/>
<text x="1115.74" y="773" text-anchor="middle" font-size="22.7" fill="#3c3c3c">61-80</text>
<text x="895.55" y="489.3" text-anchor="middle" font-size="26.6" font-weight="bold" fill="#4A4A4A">Thick</text>
<text transform="translate(663.9,628.7) rotate(-90)" text-anchor="middle" font-size="22.6" font-weight="bold" fill="#4A4A4A">No. of glands (%)</text>
</g>
<g>
<line x1="1296.1" y1="721" x2="1766.1" y2="721" stroke="#D9D9D9" stroke-width="1.25"/>
<line x1="1296.1" y1="670.83" x2="1766.1" y2="670.83" stroke="#D9D9D9" stroke-width="1.25"/>
<line x1="1296.1" y1="620.65" x2="1766.1" y2="620.65" stroke="#D9D9D9" stroke-width="1.25"/>
<line x1="1296.1" y1="570.47" x2="1766.1" y2="570.47" stroke="#D9D9D9" stroke-width="1.25"/>
<line x1="1296.1" y1="520.3" x2="1766.1" y2="520.3" stroke="#D9D9D9" stroke-width="1.25"/>
<text x="1276.22" y="727.73" text-anchor="end" font-size="23" fill="#383838">0</text>
<text x="1276.22" y="677.56" text-anchor="end" font-size="23" fill="#383838">2</text>
<text x="1276.22" y="627.38" text-anchor="end" font-size="23" fill="#383838">4</text>
<text x="1276.22" y="577.21" text-anchor="end" font-size="23" fill="#383838">6</text>
<text x="1276.22" y="527.03" text-anchor="end" font-size="23" fill="#383838">8</text>
<rect x="1316.03" y="708.25" width="16.33" height="12.15" fill="#4472C4" stroke="#3A66C0" stroke-width="0.7"/>
<line x1="1324.2" y1="707.9" x2="1324.2" y2="651.9" stroke="#5C5C5C" stroke-width="1.5"/>
<line x1="1320.1" y1="651.9" x2="1328.3" y2="651.9" stroke="#5C5C5C" stroke-width="1.5"/>
<rect x="1338.17" y="693.95" width="16.33" height="26.45" fill="#ED7D31" stroke="#EF7728" stroke-width="0.7"/>
<line x1="1346.34" y1="693.6" x2="1346.34" y2="600.3" stroke="#5C5C5C" stroke-width="1.5"/>
<line x1="1342.24" y1="600.3" x2="1350.44" y2="600.3" stroke="#5C5C5C" stroke-width="1.5"/>
<text x="1335.27" y="756.7" text-anchor="middle" font-size="22.7" fill="#3c3c3c">10-20</text>
<rect x="1394.37" y="690.85" width="16.33" height="29.55" fill="#4472C4" stroke="#3A66C0" stroke-width="0.7"/>
<line x1="1402.53" y1="690.5" x2="1402.53" y2="590.2" stroke="#5C5C5C" stroke-width="1.5"/>
<line x1="1398.43" y1="590.2" x2="1406.63" y2="590.2" stroke="#5C5C5C" stroke-width="1.5"/>
<rect x="1416.5" y="694.65" width="16.33" height="25.75" fill="#ED7D31" stroke="#EF7728" stroke-width="0.7"/>
<line x1="1424.67" y1="694.3" x2="1424.67" y2="601.4" stroke="#5C5C5C" stroke-width="1.5"/>
<line x1="1420.57" y1="601.4" x2="1428.77" y2="601.4" stroke="#5C5C5C" stroke-width="1.5"/>
<text x="1413.6" y="756.7" text-anchor="middle" font-size="22.7" fill="#3c3c3c">21-30</text>
<rect x="1472.7" y="698.85" width="16.33" height="21.55" fill="#4472C4" stroke="#3A66C0" stroke-width="0.7"/>
<line x1="1480.86" y1="698.5" x2="1480.86" y2="608.7" stroke="#5C5C5C" stroke-width="1.5"/>
<line x1="1476.76" y1="608.7" x2="1484.96" y2="608.7" stroke="#5C5C5C" stroke-width="1.5"/>
<rect x="1494.84" y="683.55" width="16.33" height="36.85" fill="#ED7D31" stroke="#EF7728" stroke-width="0.7"/>
<line x1="1503" y1="683.2" x2="1503" y2="553.7" stroke="#5C5C5C" stroke-width="1.5"/>
<line x1="1498.9" y1="553.7" x2="1507.1" y2="553.7" stroke="#5C5C5C" stroke-width="1.5"/>
<text x="1491.93" y="756.7" text-anchor="middle" font-size="22.7" fill="#3c3c3c">31-40</text>
<rect x="1551.03" y="709.65" width="16.33" height="10.75" fill="#4472C4" stroke="#3A66C0" stroke-width="0.7"/>
<line x1="1559.2" y1="709.3" x2="1559.2" y2="654.6" stroke="#5C5C5C" stroke-width="1.5"/>
<line x1="1555.1" y1="654.6" x2="1563.3" y2="654.6" stroke="#5C5C5C" stroke-width="1.5"/>
<rect x="1573.17" y="700.65" width="16.33" height="19.75" fill="#ED7D31" stroke="#EF7728" stroke-width="0.7"/>
<line x1="1581.34" y1="700.3" x2="1581.34" y2="607.3" stroke="#5C5C5C" stroke-width="1.5"/>
<line x1="1577.24" y1="607.3" x2="1585.44" y2="607.3" stroke="#5C5C5C" stroke-width="1.5"/>
<text x="1570.27" y="756.7" text-anchor="middle" font-size="22.7" fill="#3c3c3c">41-50</text>
<rect x="1629.37" y="720.15" width="16.33" height="0.3" fill="#4472C4" stroke="#3A66C0" stroke-width="0.7"/>
<line x1="1637.53" y1="719.8" x2="1637.53" y2="702.3" stroke="#5C5C5C" stroke-width="1.5"/>
<line x1="1633.43" y1="702.3" x2="1641.63" y2="702.3" stroke="#5C5C5C" stroke-width="1.5"/>
<rect x="1651.5" y="690.85" width="16.33" height="29.55" fill="#ED7D31" stroke="#EF7728" stroke-width="0.7"/>
<line x1="1659.67" y1="690.5" x2="1659.67" y2="584" stroke="#5C5C5C" stroke-width="1.5"/>
<line x1="1655.57" y1="584" x2="1663.77" y2="584" stroke="#5C5C5C" stroke-width="1.5"/>
<text x="1648.6" y="756.7" text-anchor="middle" font-size="22.7" fill="#3c3c3c">51-60</text>
<rect x="1707.7" y="713.85" width="16.33" height="6.55" fill="#4472C4" stroke="#3A66C0" stroke-width="0.7"/>
<line x1="1715.86" y1="713.5" x2="1715.86" y2="658.1" stroke="#5C5C5C" stroke-width="1.5"/>
<line x1="1711.76" y1="658.1" x2="1719.96" y2="658.1" stroke="#5C5C5C" stroke-width="1.5"/>
<rect x="1729.84" y="705.75" width="16.33" height="14.65" fill="#ED7D31" stroke="#EF7728" stroke-width="0.7"/>
<line x1="1738" y1="705.4" x2="1738" y2="625" stroke="#1e1e1e" stroke-width="1.5"/>
<line x1="1733.9" y1="625" x2="1742.1" y2="625" stroke="#1e1e1e" stroke-width="1.5"/>
<text x="1726.93" y="756.7" text-anchor="middle" font-size="22.7" fill="#3c3c3c">61-80</text>
<text x="1497.95" y="489.1" text-anchor="middle" font-size="26.6" font-weight="bold" fill="#4A4A4A">Fluffy</text>
<text transform="translate(1252,622) rotate(-90)" text-anchor="middle" font-size="22.6" font-weight="bold" fill="#4A4A4A">No. of glands (%)</text>
</g>
<g>
<rect x="819" y="857.8" width="14.3" height="13.3" fill="#4472C4" stroke="#1F438C" stroke-width="1.6"/>
<text x="858.69" y="871.5" font-size="22.8" fill="#000">Upper eyelid</text>
<rect x="819" y="894.9" width="14.3" height="13.3" fill="#ED7D31" stroke="#1F438C" stroke-width="1.6"/>
<text x="858.69" y="908.0" font-size="22.8" fill="#000">Lower eyelid</text>
</g>
</svg>
</body></html>
